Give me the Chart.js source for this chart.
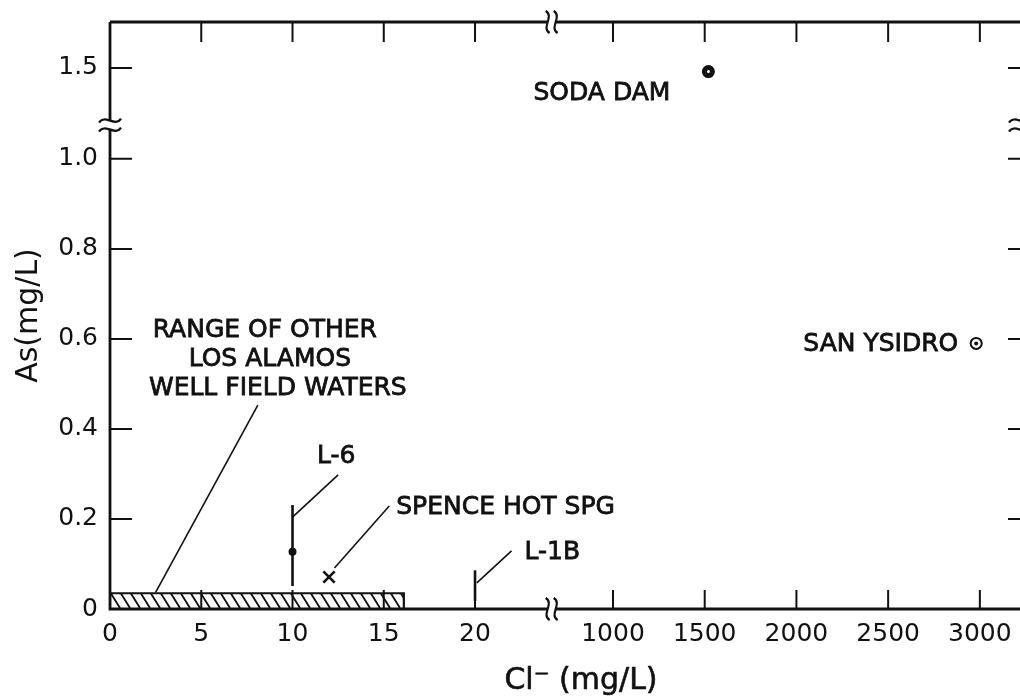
<!DOCTYPE html>
<html>
<head>
<meta charset="utf-8">
<script src="https://cdn.jsdelivr.net/npm/chart.js@4.4.1/dist/chart.umd.min.js"></script>
<style>
  html, body { margin: 0; padding: 0; background: #fff; overflow: hidden; }
  #wrap { width: 1020px; height: 698px; position: relative; }
</style>
</head>
<body>
<div id="wrap"><canvas id="chart"></canvas></div>
<script>
const X_TICKS = [0, 5, 10, 15, 20, 1000, 1500, 2000, 2500, 3000];
const Y_TICKS = [0, 0.2, 0.4, 0.6, 0.8, 1.0, 1.5];

// sampled waters: Cl (mg/L) and As (mg/L)
const SITES = ['SODA DAM', 'SAN YSIDRO', 'L-6', 'SPENCE HOT SPG', 'L-1B'];
const SITE_CL = [1520, 2980, 10, 12, 20];
const SITE_AS = [1.48, 0.59, 0.127, 0.071, null];
// spread of repeated samples for the wells
const SITE_AS_MIN = [null, null, 0.051, null, 0.018];
const SITE_AS_MAX = [null, null, 0.231, null, 0.086];

// range of the other Los Alamos well field waters
const RANGE_CL = [0, 16.1];
const RANGE_AS = [0, 0.035];

// leader lines from a mark to its label
const LEADERS = ['RANGE', 'L-6', 'SPENCE HOT SPG', 'L-1B'];
const LEADER_CL0 = [2.5, 10.0, 12.3, 20.1];
const LEADER_AS0 = [0.037, 0.204, 0.091, 0.058];
const LEADER_CL1 = [8.1, 12.5, 15.3, 22.0];
const LEADER_AS1 = [0.453, 0.298, 0.229, 0.129];

// both axes are broken, so real values go onto one continuous scale
function xv(cl) { return cl <= 25 ? cl : 27.56 + (cl - 1000) / 99.5; }
function yv(as) { return as <= 1.0 ? as : 1.0 + (as - 1.0) * 0.404; }
const X_BREAK = 24.2;
const Y_BREAK = 1.076;
const X_MAX = 49.86;
const Y_MAX = 1.304;

const INK = '#111';
const TICK_FONT = { family: 'DejaVu Sans', size: 25 };
const TITLE_FONT = { family: 'DejaVu Sans', size: 30 };
const NOTE_FONT = '25px "DejaVu Sans"';

function fmtY(v) { return v === 0 ? '0' : v.toFixed(1); }

function hatchPattern() {
  const w = 10, h = 16;
  const c = document.createElement('canvas');
  c.width = w; c.height = h;
  const g = c.getContext('2d');
  g.strokeStyle = INK;
  g.lineWidth = 1.9;
  g.beginPath();
  [-w, 0, w].forEach(dx => { g.moveTo(dx, 0); g.lineTo(dx + w, h); });
  g.stroke();
  return g.createPattern(c, 'repeat');
}

function pt(cl, as) { return { x: xv(cl), y: yv(as) }; }

const datasets = [];

datasets.push({
  label: 'other well field waters',
  order: 5,
  showLine: true,
  fill: 'origin',
  backgroundColor: hatchPattern(),
  borderColor: INK,
  borderWidth: 2.2,
  pointRadius: 0,
  data: [pt(RANGE_CL[0], RANGE_AS[0]), pt(RANGE_CL[0], RANGE_AS[1]),
         pt(RANGE_CL[1], RANGE_AS[1]), pt(RANGE_CL[1], RANGE_AS[0])]
});

LEADERS.forEach((name, i) => {
  datasets.push({
    label: 'leader ' + name,
    order: 4,
    showLine: true,
    borderColor: INK,
    borderWidth: 1.6,
    pointRadius: 0,
    data: [pt(LEADER_CL0[i], LEADER_AS0[i]), pt(LEADER_CL1[i], LEADER_AS1[i])]
  });
});

SITES.forEach((name, i) => {
  if (SITE_AS_MIN[i] === null) return;
  datasets.push({
    label: name + ' range',
    order: 3,
    showLine: true,
    borderColor: INK,
    borderWidth: 2.6,
    pointRadius: 0,
    data: [pt(SITE_CL[i], SITE_AS_MIN[i]), pt(SITE_CL[i], SITE_AS_MAX[i])]
  });
});

const MARKERS = {
  'SODA DAM': { pointStyle: 'circle', pointRadius: 4, pointBorderWidth: 5, pointBackgroundColor: '#fff' },
  'SAN YSIDRO': { pointStyle: 'circle', pointRadius: 5.5, pointBorderWidth: 2, pointBackgroundColor: '#fff' },
  'L-6': { pointStyle: 'circle', pointRadius: 4, pointBorderWidth: 0, pointBackgroundColor: INK },
  'SPENCE HOT SPG': { pointStyle: 'crossRot', pointRadius: 8, pointBorderWidth: 2.6, pointBackgroundColor: INK }
};

SITES.forEach((name, i) => {
  if (SITE_AS[i] === null) return;
  datasets.push(Object.assign({
    label: name,
    order: 2,
    pointBorderColor: INK,
    data: [pt(SITE_CL[i], SITE_AS[i])]
  }, MARKERS[name]));
});

// centre dot of the San Ysidro marker
datasets.push({
  label: 'SAN YSIDRO dot',
  order: 1,
  pointRadius: 2,
  pointBorderWidth: 0,
  pointBackgroundColor: INK,
  data: [pt(SITE_CL[1], SITE_AS[1])]
});

function metaPoint(chart, label, idx) {
  const di = chart.data.datasets.findIndex(d => d.label === label);
  return chart.getDatasetMeta(di).data[idx];
}

// text, anchor dataset/point, pixel offset, alignment
const NOTES = [
  ['SODA DAM', 'SODA DAM', 0, -38, 22, 'right'],
  ['SAN YSIDRO', 'SAN YSIDRO', 0, -18, 1, 'right'],
  ['RANGE OF OTHER', 'leader RANGE', 1, 7, -75, 'center'],
  ['LOS ALAMOS', 'leader RANGE', 1, 12, -46, 'center'],
  ['WELL FIELD WATERS', 'leader RANGE', 1, 20, -17, 'center'],
  ['L-6', 'leader L-6', 1, -2, -18, 'center'],
  ['SPENCE HOT SPG', 'leader SPENCE HOT SPG', 1, 7, 2, 'left'],
  ['L-1B', 'leader L-1B', 1, 13, 2, 'left']
];

const notes = {
  id: 'notes',
  afterDatasetsDraw(chart) {
    const { ctx, chartArea: a } = chart;
    ctx.save();
    ctx.font = NOTE_FONT;
    ctx.fillStyle = INK;
    ctx.strokeStyle = INK;
    ctx.lineWidth = 0.8;
    ctx.textBaseline = 'middle';
    NOTES.forEach(([text, label, idx, dx, dy, align]) => {
      const p = metaPoint(chart, label, idx);
      ctx.textAlign = align;
      ctx.fillText(text, p.x + dx, p.y + dy);
      ctx.strokeText(text, p.x + dx, p.y + dy);
    });
    // x axis title sits a little right of the plot centre
    ctx.font = TITLE_FONT.size + 'px "' + TITLE_FONT.family + '"';
    ctx.textAlign = 'center';
    ctx.lineWidth = 0.6;
    const tx = (a.left + a.right) / 2 + 16;
    ctx.fillText('Cl⁻ (mg/L)', tx, a.bottom + 72);
    ctx.strokeText('Cl⁻ (mg/L)', tx, a.bottom + 72);
    ctx.restore();
  }
};

function squiggleV(ctx, x, y) {
  // wavy stroke across a horizontal axis
  ctx.moveTo(x - 2, y - 11);
  ctx.bezierCurveTo(x + 7, y - 6, x - 7, y + 6, x + 2, y + 11);
}

function squiggleH(ctx, x, y) {
  // tilde across a vertical axis
  ctx.moveTo(x - 11, y + 2);
  ctx.bezierCurveTo(x - 5, y - 7, x + 5, y + 7, x + 11, y - 2);
}

const frame = {
  id: 'frame',
  afterDatasetsDraw(chart) {
    const { ctx, chartArea: a, scales: { x, y } } = chart;
    ctx.save();
    ctx.strokeStyle = INK;
    ctx.lineWidth = 2.8;
    ctx.beginPath();
    ctx.moveTo(a.left, a.top);
    ctx.lineTo(a.left, a.bottom);
    ctx.lineTo(a.right, a.bottom);
    ctx.moveTo(a.left, a.top);
    ctx.lineTo(a.right, a.top);
    ctx.stroke();

    ctx.lineWidth = 2;
    ctx.beginPath();
    X_TICKS.forEach(v => {
      if (v === 0) return;
      const px = x.getPixelForValue(xv(v));
      ctx.moveTo(px, a.bottom); ctx.lineTo(px, a.bottom - 19);
      ctx.moveTo(px, a.top); ctx.lineTo(px, a.top + 20);
    });
    Y_TICKS.forEach(v => {
      if (v === 0) return;
      const py = y.getPixelForValue(yv(v));
      ctx.moveTo(a.left, py); ctx.lineTo(a.left + 22, py);
      ctx.moveTo(a.right, py); ctx.lineTo(a.right - 12, py);
    });
    ctx.stroke();

    // axis breaks
    const bx = x.getPixelForValue(X_BREAK);
    const by = y.getPixelForValue(Y_BREAK);
    ctx.fillStyle = '#fff';
    [a.top, a.bottom].forEach(ay => ctx.fillRect(bx - 4, ay - 3, 8, 6));
    [a.left, a.right].forEach(ax => ctx.fillRect(ax - 3, by - 4, 6, 8));
    ctx.lineWidth = 2.2;
    ctx.beginPath();
    [a.top, a.bottom].forEach(ay => { squiggleV(ctx, bx - 4, ay); squiggleV(ctx, bx + 4, ay); });
    [a.left, a.right].forEach(ax => { squiggleH(ctx, ax, by - 4); squiggleH(ctx, ax, by + 5); });
    ctx.stroke();
    ctx.restore();
  }
};

function noPad(s) {
  s.paddingLeft = 0; s.paddingRight = 0; s.paddingTop = 0; s.paddingBottom = 0;
}

new Chart(document.getElementById('chart'), {
  type: 'scatter',
  data: { datasets },
  options: {
    responsive: true,
    maintainAspectRatio: false,
    animation: false,
    events: [],
    layout: { autoPadding: false, padding: { top: 22, right: 0, left: 0, bottom: 0 } },
    plugins: { legend: { display: false }, tooltip: { enabled: false } },
    elements: { line: { tension: 0 } },
    scales: {
      x: {
        type: 'linear',
        min: 0,
        max: X_MAX,
        afterBuildTicks: s => { s.ticks = X_TICKS.map(v => ({ value: xv(v) })); },
        afterFit: s => { s.height = 89; noPad(s); },
        ticks: {
          callback: (v, i) => String(X_TICKS[i]),
          autoSkip: false, maxRotation: 0, padding: 10,
          font: TICK_FONT, color: INK
        },
        grid: { display: false, drawTicks: false },
        border: { display: false },
        title: { display: false }
      },
      y: {
        type: 'linear',
        min: 0,
        max: Y_MAX,
        afterBuildTicks: s => { s.ticks = Y_TICKS.map(v => ({ value: yv(v) })); },
        afterFit: s => { s.width = 110; noPad(s); },
        ticks: {
          callback: (v, i) => fmtY(Y_TICKS[i]),
          autoSkip: false, padding: 12,
          font: TICK_FONT, color: INK
        },
        grid: { display: false, drawTicks: false },
        border: { display: false },
        title: { display: true, text: 'As(mg/L)', font: TITLE_FONT, color: INK, padding: { top: 11, bottom: 0 } }
      }
    }
  },
  plugins: [frame, notes]
});
</script>
</body>
</html>
